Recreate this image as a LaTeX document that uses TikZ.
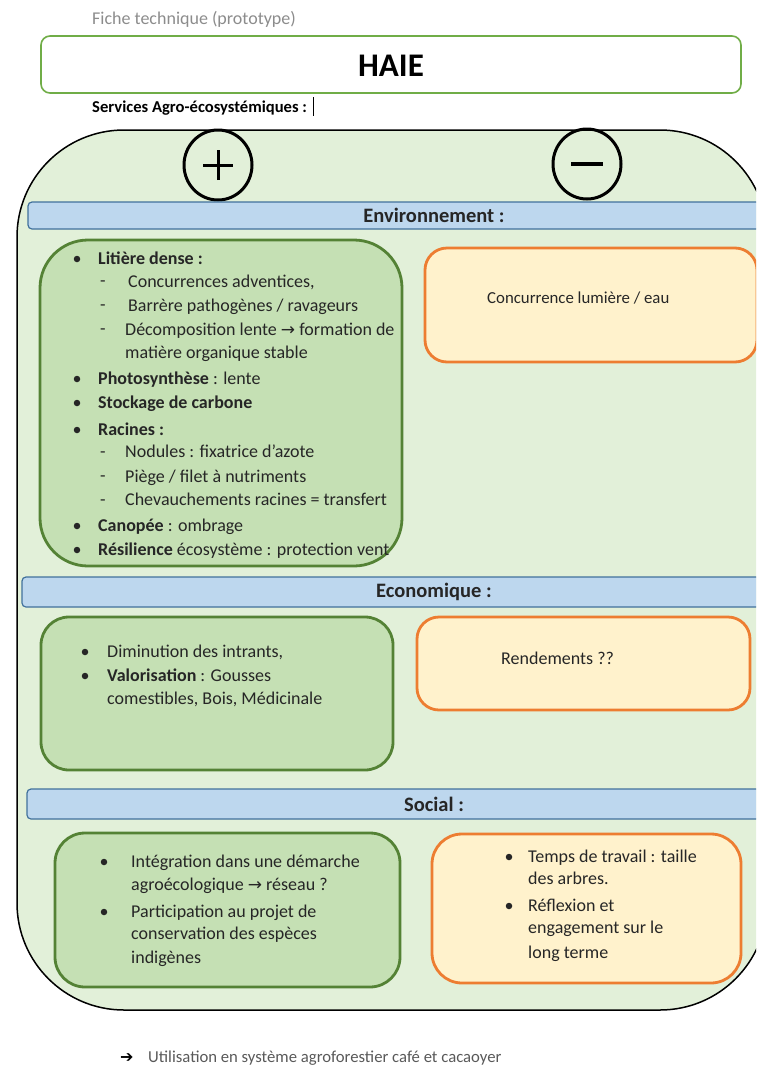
\documentclass[tikz,border=0pt]{standalone}
\usepackage{fontspec}
\setmainfont{Carlito}
\newfontfamily\symfont{DejaVu Sans}
\usetikzlibrary{shapes.geometric}

\definecolor{panelfill}{HTML}{E2F0D9}
\definecolor{posfill}{HTML}{C5E0B4}
\definecolor{posline}{HTML}{548235}
\definecolor{negfill}{HTML}{FFF2CC}
\definecolor{negline}{HTML}{ED7D31}
\definecolor{bandfill}{HTML}{BDD7EE}
\definecolor{bandline}{HTML}{41719C}
\definecolor{titleline}{HTML}{70AD47}
\definecolor{ink}{HTML}{262626}
\definecolor{softgray}{HTML}{8C8C8C}
\definecolor{notegray}{HTML}{595959}

\newcommand{\bodyfont}{\fontsize{18}{22}\selectfont}
\newcommand{\rarr}{{\symfont\fontsize{17}{20}\selectfont\char"2192}}

\begin{document}
\begin{tikzpicture}[x=1pt,y=-1pt,
  txt/.style={inner sep=0pt, text=ink, font=\bodyfont, anchor=base west},
  dot/.style={circle, fill=ink, inner sep=0pt, minimum size=6.5pt},
  posbox/.style={draw=posline, fill=posfill, line width=2.8pt, inner sep=0pt},
  negbox/.style={draw=negline, fill=negfill, line width=2.8pt, inner sep=0pt},
  band/.style={draw=bandline, fill=bandfill, line width=1.2pt, rounded corners=4pt,
    inner sep=0pt, font=\fontsize{20.5}{24}\selectfont\bfseries, text=ink},
  sign/.style={ellipse, draw=black, line width=3pt, inner sep=0pt,
    minimum width=68pt, minimum height=70pt},
]
\useasboundingbox (0,0) rectangle (756,1066);
\clip (0,0) rectangle (756,1066);

% header
\node[inner sep=0pt, anchor=base west, text=softgray, font=\fontsize{18}{21}\selectfont]
  (fiche) at (92,24) {Fiche technique (prototype)};
\node[draw=titleline, line width=1.6pt, fill=white, rounded corners=9pt,
  minimum width=700pt, minimum height=57pt, inner sep=0pt] (titlebox) at (391,64.5) {};
\node[font=\fontsize{33}{38}\selectfont\bfseries, text=black, inner sep=0pt] (haie) at (391,66) {HAIE};
\node[inner sep=0pt, anchor=base west, text=black, font=\fontsize{16.6}{19}\selectfont\bfseries]
  (services) at (92,112) {Services Agro-écosystémiques :};
\coordinate (cursortop) at (313,97);
\coordinate (cursorbot) at (313,116);
\draw[line width=1pt] (cursortop) -- (cursorbot);

% main panel
\node[draw=black, line width=1.5pt, fill=panelfill, rounded corners=107pt,
  minimum width=750pt, minimum height=880pt, inner sep=0pt] (panel) at (392,570) {};

% plus / minus symbols
\node[sign] (plus) at (218,165) {};
\draw[line width=3pt] ([xshift=-15pt]plus.center) -- ([xshift=15pt]plus.center);
\draw[line width=3pt] ([yshift=-15pt]plus.center) -- ([yshift=15pt]plus.center);
\node[sign] (minus) at (587,164) {};
\draw[line width=4pt] ([xshift=-16pt]minus.center) -- ([xshift=16pt]minus.center);

% section bands
\node[band, minimum width=812pt, minimum height=27pt] (envband) at (434,215.5) {Environnement :};
\node[band, minimum width=824pt, minimum height=30pt] (ecoband) at (434,592) {Economique :};
\node[band, minimum width=814pt, minimum height=30pt] (socband) at (434,804) {Social :};

% boxes
\node[posbox, rounded corners=48pt, minimum width=362pt, minimum height=326pt] (envpos) at (221,403) {};
\node[negbox, rounded corners=22pt, minimum width=332pt, minimum height=114pt] (envneg) at (591,305) {};
\node[posbox, rounded corners=28pt, minimum width=352pt, minimum height=153pt] (ecopos) at (217,693.5) {};
\node[negbox, rounded corners=22pt, minimum width=333pt, minimum height=93pt] (econeg) at (583.5,663.5) {};
\node[posbox, rounded corners=30pt, minimum width=345pt, minimum height=154pt] (socpos) at (227.5,910) {};
\node[negbox, rounded corners=30pt, minimum width=309pt, minimum height=149pt] (socneg) at (586.5,908.5) {};

% environment, positive
\node[dot] (eb1) at (77,259) {};
\node[dot] (eb2) at (77,379) {};
\node[dot] (eb3) at (77,403) {};
\node[dot] (eb4) at (77,430) {};
\node[dot] (eb5) at (77,526) {};
\node[dot] (eb6) at (77,550) {};
\node[txt] (ed1) at (100,286) {-};
\node[txt] (ed2) at (100,310) {-};
\node[txt] (ed3) at (100,334) {-};
\node[txt] (ed4) at (100,457) {-};
\node[txt] (ed5) at (100,481) {-};
\node[txt] (ed6) at (100,505) {-};
\node[txt] (e1) at (98,264) {\textbf{Litière dense :}};
\node[txt] (e2) at (128,287) {Concurrences adventices,};
\node[txt] (e3) at (128,311) {Barrère pathogènes / ravageurs};
\node[txt] (e4) at (125,335) {Décomposition lente \rarr{} formation de};
\node[txt] (e5) at (125,358) {matière organique stable};
\node[txt] (e6) at (98,384) {\textbf{Photosynthèse} : lente};
\node[txt] (e7) at (98,408) {\textbf{Stockage de carbone}};
\node[txt] (e8) at (98,435) {\textbf{Racines :}};
\node[txt] (e9) at (125,457) {Nodules : fixatrice d’azote};
\node[txt] (e10) at (125,482) {Piège / filet à nutriments};
\node[txt] (e11) at (125,505) {Chevauchements racines = transfert};
\node[txt] (e12) at (98,531) {\textbf{Canopée} : ombrage};
\node[txt] (e13) at (98,555) {\textbf{Résilience} écosystème : protection vent};

% environment, negative
\node[txt, font=\fontsize{16.8}{20}\selectfont] (n1) at (487,303) {Concurrence lumière / eau};

% economic
\node[dot] (cb1) at (85,652) {};
\node[dot] (cb2) at (85,676) {};
\node[txt] (c1) at (107,657) {Diminution des intrants,};
\node[txt] (c2) at (107,681) {\textbf{Valorisation} : Gousses};
\node[txt] (c3) at (107,704) {comestibles, Bois, Médicinale};
\node[txt] (c4) at (501,664) {Rendements ??};

% social
\node[dot] (sb1) at (104,862) {};
\node[dot] (sb2) at (104,912) {};
\node[txt] (s1) at (131,867) {Intégration dans une démarche};
\node[txt] (s2) at (131,890) {agroécologique \rarr{} réseau ?};
\node[txt] (s3) at (131,917) {Participation au projet de};
\node[txt] (s4) at (131,939) {conservation des espèces};
\node[txt] (s5) at (131,963) {indigènes};
\node[dot] (tb1) at (509,857) {};
\node[dot] (tb2) at (509,906) {};
\node[txt] (t1) at (528,862) {Temps de travail : taille};
\node[txt] (t2) at (528,884) {des arbres.};
\node[txt] (t3) at (528,911) {Réflexion et};
\node[txt] (t4) at (528,933) {engagement sur le};
\node[txt] (t5) at (528,958) {long terme};

% closing note
\node[inner sep=0pt, anchor=base west, text=black, font=\symfont\fontsize{16}{19}\selectfont]
  (notearrow) at (120,1062) {\char"2794};
\node[inner sep=0pt, anchor=base west, text=notegray, font=\fontsize{16.7}{20}\selectfont]
  (note) at (148,1062) {Utilisation en système agroforestier café et cacaoyer};
\end{tikzpicture}
\end{document}
